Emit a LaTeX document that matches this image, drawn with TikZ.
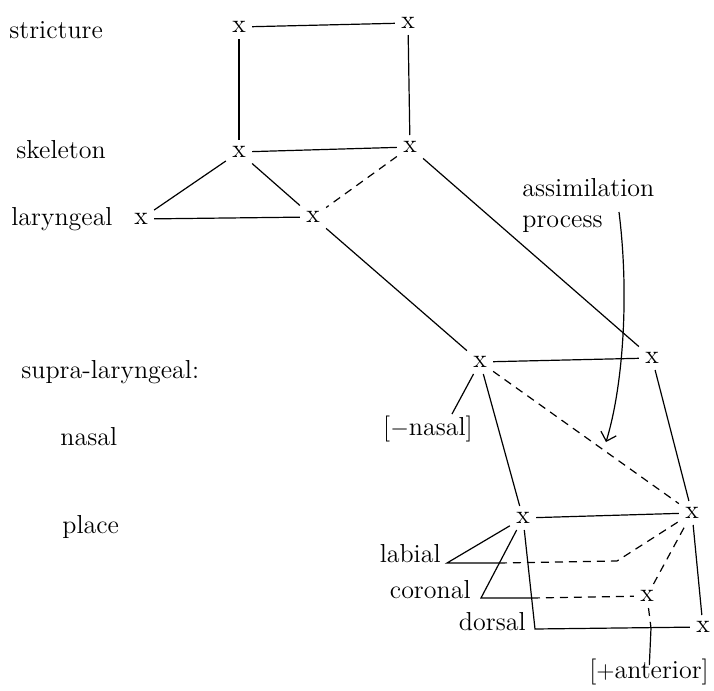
\documentclass[tikz,border=0pt]{standalone}
\usetikzlibrary{arrows.meta}
\begin{document}
\begin{tikzpicture}[
  x=0.5pt, y=-0.5pt,
  every node/.style={font=\fontsize{13}{15.5}\selectfont},
  seg/.style={inner sep=3pt},
  tier/.style={anchor=west, inner sep=0pt, text height=1.5ex, text depth=.25ex},
  feat/.style={inner sep=0pt, text height=1.5ex, text depth=.25ex},
  ln/.style={line width=0.6pt},
  dsh/.style={ln, dash pattern=on 4pt off 3pt},
  arr/.style={ln, -{Straight Barb[length=4pt]}}
]
\useasboundingbox (0,0) rectangle (714,691);

% tier names
\node[tier] (str)  at (9,33)    {stricture};
\node[tier] (skel) at (16,153)  {skeleton};
\node[tier] (lar)  at (11,220)  {laryngeal};
\node[tier] (supl) at (21,373)  {supra-laryngeal:};
\node[tier] (nas)  at (60,440)  {nasal};
\node[tier] (plc)  at (62,528)  {place};

% segments
\node[seg] (s1)   at (239,27)  {x};
\node[seg] (s2)   at (408,23)  {x};
\node[seg] (k1)   at (239,152) {x};
\node[seg] (k2)   at (410,147) {x};
\node[seg] (lar1) at (141,219) {x};
\node[seg] (lar2) at (313,217) {x};
\node[seg] (sl1)  at (480,362) {x};
\node[seg] (sl2)  at (652,358) {x};
\node[seg] (pl1)  at (523,518) {x};
\node[seg] (pl2)  at (692,513) {x};
\node[seg] (cor2) at (647,596) {x};
\node[seg] (dor2) at (703,627) {x};

% features
\node[feat] (minnas) at (428,430) {[$-$nasal]};
\node[feat, anchor=east] (lab) at (441,557) {labial};
\node[feat, anchor=east] (cor) at (471,593) {coronal};
\node[feat, anchor=east] (dor) at (526,625) {dorsal};
\node[feat] (ant) at (649,673) {[$+$anterior]};
\node[anchor=west, inner sep=0pt, align=left]
  (assim) at (522,205) {assimilation\\process};

% corners and crossings
\coordinate (nasfoot) at (452,414);
\coordinate (labc) at (447,563);
\coordinate (labx) at (499,563);
\coordinate (labd) at (617,561);
\coordinate (corc) at (481,598);
\coordinate (corx) at (532,598);
\coordinate (dorc) at (535,629);
\coordinate (antx) at (651,628);
\coordinate (procend) at (619,212);
\coordinate (tip) at (606,442);

\draw[ln] (s1) -- (s2);
\draw[ln] (s1) -- (k1);
\draw[ln] (s2) -- (k2);
\draw[ln] (k1) -- (k2);
\draw[ln] (k1) -- (lar1);
\draw[ln] (lar1) -- (lar2);
\draw[ln] (k1) -- (lar2);
\draw[ln] (lar2) -- (sl1);
\draw[dsh] (k2) -- (lar2);
\draw[ln] (k2) -- (sl2);
\draw[ln] (sl1) -- (sl2);
\draw[ln] (sl1) -- (nasfoot);
\draw[ln] (sl1) -- (pl1);
\draw[dsh] (sl1) -- (pl2);
\draw[ln] (sl2) -- (pl2);
\draw[ln] (pl1) -- (pl2);
\draw[ln] (pl1) -- (labc) -- (labx);
\draw[dsh] (labx) -- (labd) -- (pl2);
\draw[ln] (pl1) -- (corc) -- (corx);
\draw[dsh] (corx) -- (cor2);
\draw[dsh] (cor2) -- (pl2);
\draw[ln] (pl1) -- (dorc) -- (dor2);
\draw[ln] (pl2) -- (dor2);
\draw[dsh] (cor2) -- (antx);
\draw[ln] (antx) -- (ant);
\draw[arr] (procend) .. controls (630,300) and (622,390) .. (tip);
\end{tikzpicture}
\end{document}
